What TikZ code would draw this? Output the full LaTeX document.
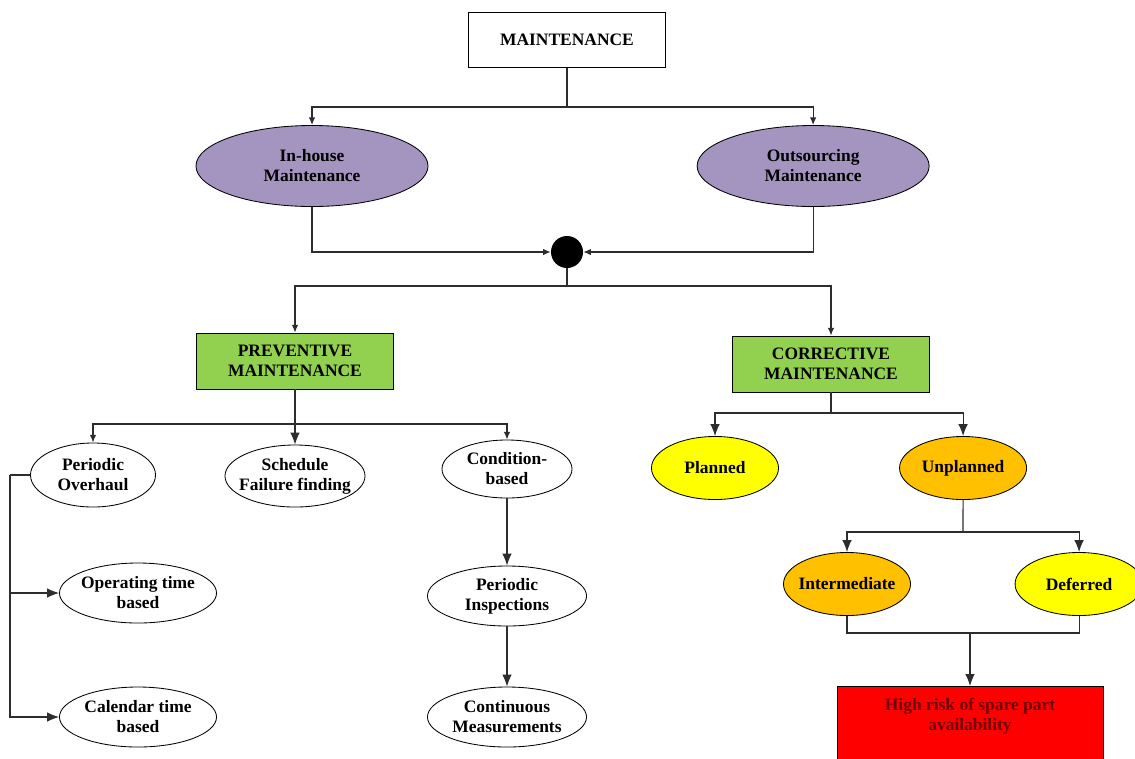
\documentclass[tikz,border=0pt]{standalone}
\usepackage{fontspec}
\setmainfont{Liberation Serif}
\usetikzlibrary{shapes.geometric, positioning, arrows.meta}
\definecolor{lavender}{RGB}{163,148,192}
\definecolor{leaf}{RGB}{146,208,80}
\definecolor{amber}{RGB}{255,192,0}
\definecolor{lemon}{RGB}{255,255,0}
\definecolor{alarm}{RGB}{255,0,0}
\definecolor{maroon}{RGB}{110,0,0}
\definecolor{wire}{RGB}{45,45,45}

\begin{document}
\begin{tikzpicture}[x=0.025cm, y=-0.025cm, >={Latex[length=3mm,width=2.4mm]},
    every node/.style={font=\bfseries\fontsize{12.4}{14.2}\selectfont, align=center, inner sep=0pt},
    box/.style={draw, line width=0.6pt, rectangle, minimum width=4.925cm},
    oval/.style={draw, line width=0.6pt, ellipse, inner xsep=-5pt},
    link/.style={draw=wire, line width=0.8pt},
    small/.style={-{Latex[length=1.9mm,width=1.6mm]}}]

    \useasboundingbox (0,0) rectangle (1135,758);

    % top level
    \node[box, minimum height=1.375cm] (maint) at (567,40) {MAINTENANCE};
    \node[oval, fill=lavender, minimum width=5.8cm, minimum height=2.025cm] (inhouse) at (312,166) {In-house\\Maintenance};
    \node[oval, fill=lavender, minimum width=5.8cm, minimum height=2.025cm, right of=inhouse, node distance=12.525cm] (outsrc) {Outsourcing\\Maintenance};
    \node[circle, fill=black, minimum size=0.8cm] (hub) at (567,252) {};

    \coordinate (fork1) at (567,107);
    \draw[link] (maint.south) -- (fork1);
    \draw[link, small] (fork1) -| (inhouse.north);
    \draw[link, small] (fork1) -| (outsrc.north);
    \draw[link, small] (inhouse.south) |- (hub.west);
    \draw[link, small] (outsrc.south) |- (hub.east);

    % maintenance types
    \node[box, fill=leaf, minimum height=1.4cm] (prev) at (295,361) {PREVENTIVE\\MAINTENANCE};
    \node[box, fill=leaf, minimum height=1.4cm] (corr) at (831,364) {CORRECTIVE\\MAINTENANCE};

    \coordinate (fork2) at (567,286);
    \draw[link] (hub.south) -- (fork2);
    \draw[link, small] (fork2) -| (prev.north);
    \draw[link, small] (fork2) -| (corr.north);

    % preventive branch
    \node[oval, minimum width=3.125cm, minimum height=1.6cm] (overhaul) at (93,475) {Periodic\\Overhaul};
    \node[oval, minimum width=3.5cm, minimum height=1.55cm] (failure) at (295,476) {Schedule\\Failure finding};
    \node[oval, minimum width=3.25cm, minimum height=1.45cm] (condition) at (507,469) {Condition-\\based};
    \node[oval, minimum width=3.925cm, minimum height=1.5cm] (optime) at (138,593) {Operating time\\based};
    \node[oval, minimum width=3.925cm, minimum height=1.5cm] (caltime) at (138,717) {Calendar time\\based};
    \node[oval, minimum width=3.975cm, minimum height=1.5cm] (inspect) at (507,596) {Periodic\\Inspections};
    \node[oval, minimum width=3.975cm, minimum height=1.5cm] (measure) at (507,717) {Continuous\\Measurements};

    \coordinate (fork3) at (295,424);
    \draw[link] (prev.south) -- (fork3);
    \draw[link, small] (fork3) -| (overhaul.north);
    \draw[link, ->] (fork3) -- (failure.north);
    \draw[link, small] (fork3) -| (condition.north);

    \coordinate (rail) at (10,475);
    \draw[link] (overhaul.west) -- (rail);
    \draw[link, ->] (rail) |- (optime.west);
    \draw[link, ->] (rail) |- (caltime.west);

    \draw[link, ->] (condition.south) -- (inspect.north);
    \draw[link, ->] (inspect.south) -- (measure.north);

    % corrective branch
    \node[oval, fill=lemon, minimum width=3.175cm, minimum height=1.575cm] (planned) at (715,468) {Planned};
    \node[oval, fill=amber, minimum width=3.175cm, minimum height=1.575cm, right of=planned, node distance=6.2cm] (unplanned) {Unplanned};
    \node[oval, fill=amber, minimum width=3.175cm, minimum height=1.575cm] (inter) at (847,584) {Intermediate};
    \node[oval, fill=lemon, minimum width=3.2cm, minimum height=1.575cm, right of=inter, node distance=5.8cm] (defer) {Deferred};
    \node[draw, line width=0.6pt, rectangle, fill=alarm, minimum width=6.65cm, minimum height=3cm, anchor=north] (risk) at (970,686) {};
    \node[text=maroon, below=0.3cm of risk.north] (risktext) {High risk of spare part\\availability};

    \coordinate (fork4) at (831,413);
    \draw[link] (corr.south) -- (fork4);
    \draw[link, ->] (fork4) -| (planned.north);
    \draw[link, ->] (fork4) -| (unplanned.north);

    \coordinate (fork5) at (963,532);
    \draw[link] (unplanned.south) -- (fork5);
    \draw[link, ->] (fork5) -| (inter.north);
    \draw[link, ->] (fork5) -| (defer.north);

    \coordinate (merge) at (970,633);
    \draw[link] (inter.south) |- (merge) -| (defer.south);
    \draw[link, ->] (merge) -- (risk.north);
\end{tikzpicture}
\end{document}
